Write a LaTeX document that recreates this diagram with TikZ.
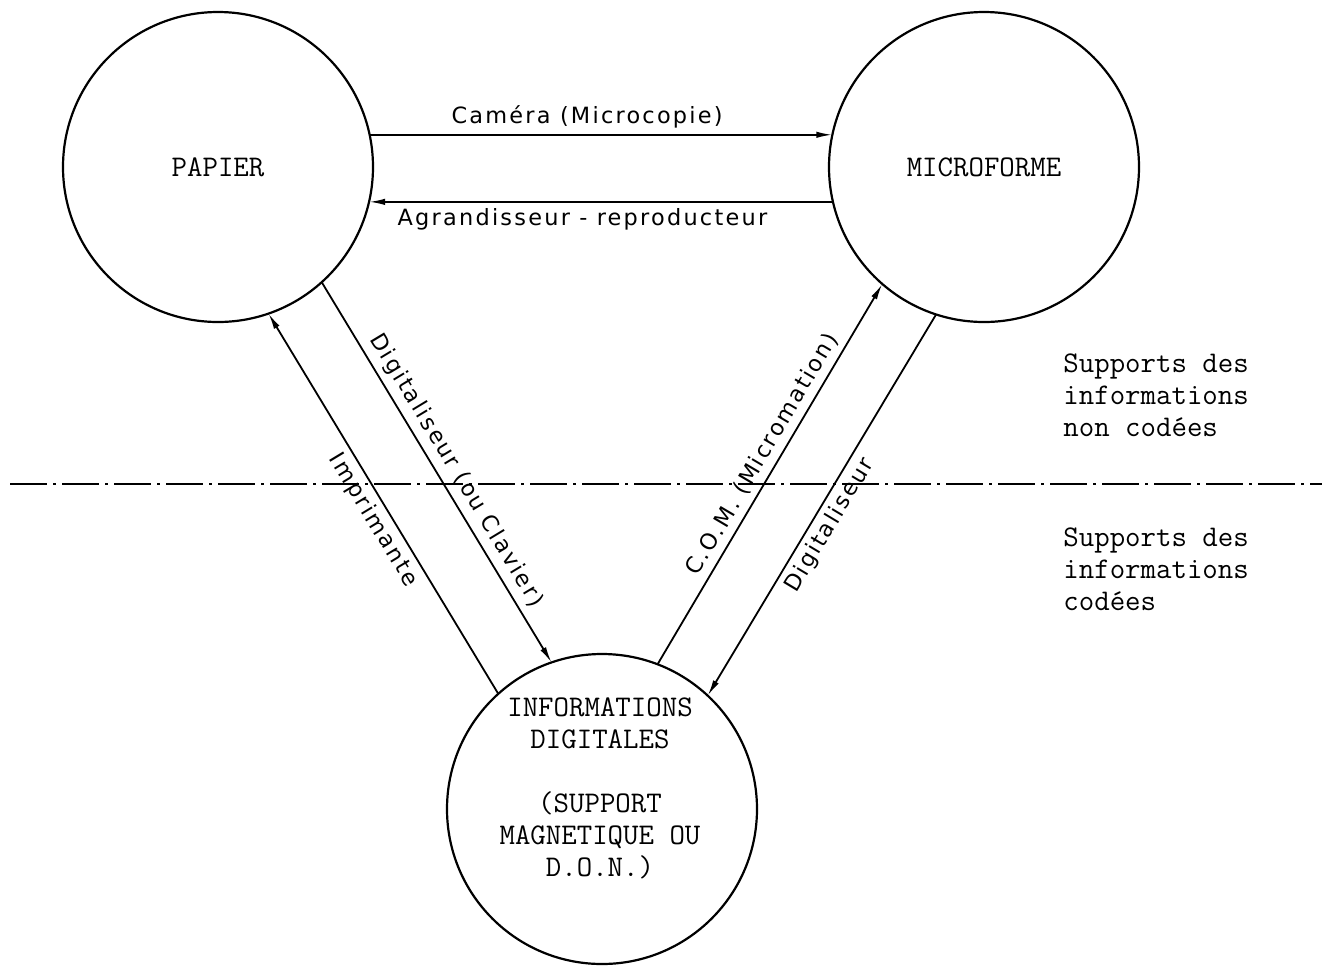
\documentclass[tikz,border=0pt]{standalone}
\usepackage{fontspec}
\setmainfont{Liberation Mono}
\newfontfamily\labfont[LetterSpace=10]{DejaVu Sans}
\usetikzlibrary{arrows.meta}
\begin{document}
\begin{tikzpicture}[x=0.5pt,y=-0.5pt,
  circ/.style={draw, circle, line width=1.1pt, minimum size=155pt, inner sep=0pt, outer sep=0pt, font=\ttfamily\fontsize{15}{16}\selectfont},
  conn/.style={line width=0.9pt, -{Latex[length=8pt,width=3.2pt]}},
  lab/.style={font=\labfont\fontsize{11.2}{13}\selectfont, inner sep=3pt},
  mono/.style={font=\ttfamily\fontsize{15}{16}\selectfont, inner sep=0pt},
  sepline/.style={line width=1pt, dash pattern=on 18.5pt off 3pt on 1.5pt off 3pt}
]
\useasboundingbox (0,0) rectangle (1329,965);
% circles
\node[circ] (papier) at (218,167) {PAPIER};
\node[circ] (micro) at (984,167) {MICROFORME};
\node[circ] (info) at (602,809) {};
\node[mono, align=center] (infotext) at (600,788) {INFORMATIONS\\DIGITALES\\[16pt](SUPPORT\\MAGNETIQUE OU\\D.O.N.)};
% horizontal connectors
\draw[conn] (papier.12) -- node[lab, above, pos=0.47] {Caméra (Microcopie)} (micro.168);
\draw[conn] (micro.193) -- node[lab, below, pos=0.54] {Agrandisseur - reproducteur} (papier.-13);
% left diagonals
\draw[conn] (info.132.6) -- (papier.-71);
\path (papier.-71) -- node[lab, sloped, below, pos=0.52] {Imprimante} (info.132.6);
\draw[conn] (papier.-48) -- node[lab, sloped, above, pos=0.52] {Digitaliseur (ou Clavier)} (info.109);
% right diagonals
\draw[conn] (info.69.4) -- node[lab, sloped, above, pos=0.53] {C.O.M. (Micromation)} (micro.229.6);
\draw[conn] (micro.-108.6) -- (info.47.1);
\path (info.47.1) -- node[lab, sloped, below, pos=0.47] {Digitaliseur} (micro.-108.6);
% separator
\coordinate (sepL) at (10,484);
\coordinate (sepR) at (1322,484);
\draw[sepline] (sepL) -- (sepR);
% side texts
\node[mono, align=left, anchor=west] (noncod) at (1063,395) {Supports des\\informations\\non codées};
\node[mono, align=left, anchor=west] (cod) at (1063,569) {Supports des\\informations\\codées};
\end{tikzpicture}
\end{document}
